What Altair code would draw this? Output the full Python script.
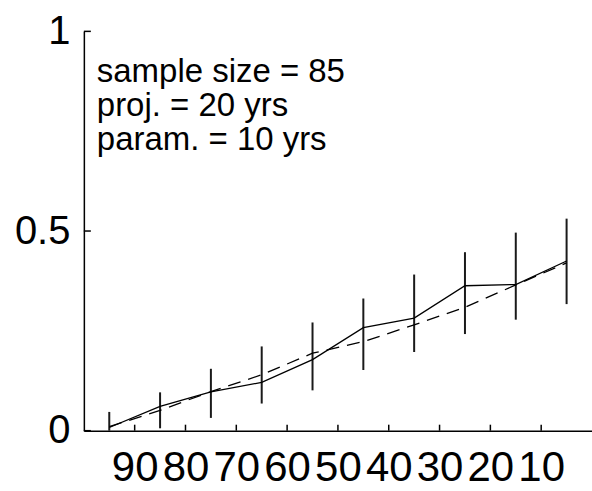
import altair as alt
import pandas as pd

# Age groups (years) at which the rates are evaluated
age = [95, 85, 75, 65, 55, 45, 35, 25, 15, 5]
# Observed rate (solid line)
observed = [0.008, 0.061, 0.097, 0.121, 0.178, 0.258, 0.282, 0.363, 0.366, 0.425]
# Projected rate (dashed line)
projected = [0.010, 0.051, 0.098, 0.140, 0.194, 0.223, 0.265, 0.309, 0.365, 0.420]
# Interval bounds for the error bars
ci_low = [0.000, 0.006, 0.032, 0.068, 0.101, 0.152, 0.197, 0.242, 0.278, 0.317]
ci_high = [0.047, 0.096, 0.155, 0.211, 0.271, 0.331, 0.391, 0.447, 0.496, 0.531]

x_ticks = [90, 80, 70, 60, 50, 40, 30, 20, 10]
y_ticks = [0, 0.5, 1]
notes = ["sample size = 85", "proj. = 20 yrs", "param. = 10 yrs"]

FONT = "Liberation Sans"
W, H = 509, 400

df = pd.DataFrame({
    "age": age,
    "observed": observed,
    "projected": projected,
    "lo": ci_low,
    "hi": ci_high,
})

x_scale = alt.Scale(domain=[100, 0], nice=False, zero=False)
y_scale = alt.Scale(domain=[0, 1], nice=False)

x_axis = alt.Axis(
    values=x_ticks, ticks=False, grid=False, title=None,
    labelFontSize=42, labelPadding=17, labelOverlap=False,
    labelFlush=False, format="d", labelColor="black", labelFont=FONT,
    domain=True, domainColor="black", domainWidth=1.5,
)
y_axis = alt.Axis(
    values=y_ticks, ticks=False, grid=False, title=None,
    labelFontSize=40, labelPadding=14, labelOverlap=False,
    labelFlush=False, format="~g", labelColor="black", labelFont=FONT,
    domain=True, domainColor="black", domainWidth=1.5,
)

X = alt.X("age:Q", scale=x_scale, axis=x_axis)

error_bars = alt.Chart(df).mark_rule(color="#1a1a1a", strokeWidth=2).encode(
    x=X,
    y=alt.Y("lo:Q", scale=y_scale, axis=y_axis),
    y2="hi:Q",
)

observed_line = alt.Chart(df).mark_line(color="black", strokeWidth=1.3).encode(
    x=X,
    y=alt.Y("observed:Q", scale=y_scale, axis=y_axis),
)

projected_line = alt.Chart(df).mark_line(
    color="black", strokeWidth=1.3, strokeDash=[13, 8]
).encode(
    x=X,
    y=alt.Y("projected:Q", scale=y_scale, axis=y_axis),
)

# Inward-pointing tick marks on both axes
x_tick_marks = alt.Chart(pd.DataFrame({"age": x_ticks})).mark_rule(
    color="black", strokeWidth=1.5
).encode(
    x=X,
    y=alt.value(H),
    y2=alt.value(H - 6),
)

y_tick_marks = alt.Chart(pd.DataFrame({"v": y_ticks})).mark_rule(
    color="black", strokeWidth=1.5
).encode(
    y=alt.Y("v:Q", scale=y_scale, axis=y_axis),
    x=alt.value(0),
    x2=alt.value(7),
)

annotation = alt.Chart(pd.DataFrame({"t": ["\n".join(notes)]})).mark_text(
    align="left", baseline="alphabetic", fontSize=33, lineHeight=34,
    font=FONT, color="black", lineBreak="\n",
).encode(
    x=alt.value(13),
    y=alt.value(51),
    text="t:N",
)

chart = alt.layer(
    error_bars, observed_line, projected_line,
    x_tick_marks, y_tick_marks, annotation,
).properties(
    width=W,
    height=H,
    autosize=alt.AutoSizeParams(type="none"),
    padding={"left": 84, "top": 31, "right": 0, "bottom": 60},
    background="white",
).configure_view(
    stroke=None,
)

chart.save("out.html", embed_options={"renderer": "svg", "actions": False})
